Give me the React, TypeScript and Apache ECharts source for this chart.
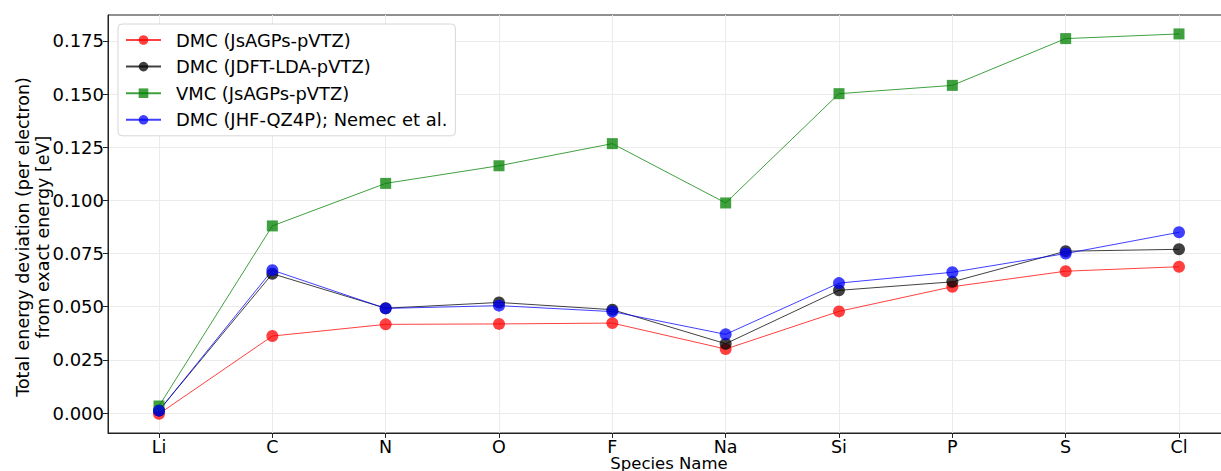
import React, { useEffect, useRef } from "react";
import * as echarts from "echarts";

const categories = ["Li", "C", "N", "O", "F", "Na", "Si", "P", "S", "Cl"];
const dmcJsAGPs = [-0.0004, 0.0362, 0.0417, 0.0419, 0.0423, 0.0301, 0.0478, 0.0594, 0.0667, 0.0688];
const dmcJDFT = [0.0012, 0.0655, 0.0493, 0.0520, 0.0486, 0.0326, 0.0577, 0.0617, 0.0761, 0.0770];
const vmcJsAGPs = [0.0033, 0.0880, 0.1080, 0.1163, 0.1267, 0.0988, 0.1502, 0.1541, 0.1761, 0.1783];
const dmcJHF = [0.0011, 0.0672, 0.0492, 0.0505, 0.0477, 0.0370, 0.0611, 0.0662, 0.0750, 0.0850];
const yTicks = [0, 0.025, 0.05, 0.075, 0.1, 0.125, 0.15, 0.175];

const FONT = "DejaVu Sans";

function mkSeries(name: string, vals: number[], color: string, symbol: string, size: number) {
  return {
    name,
    type: "line",
    data: vals.map((v, i) => [i, v]),
    symbol,
    symbolSize: size,
    lineStyle: { color, width: 1, opacity: 0.75 },
    itemStyle: { color, opacity: 0.75 },
    emphasis: { disabled: true },
  };
}

export default function App() {
  const ref = useRef<HTMLDivElement>(null);
  useEffect(() => {
    document.body.style.margin = "0";
    const chart = echarts.init(ref.current!, null, { renderer: "svg" });
    chart.setOption({
      animation: false,
      textStyle: { fontFamily: FONT },
      grid: {
        left: 108, top: 15, right: -9, bottom: 38,
        show: true, borderColor: "#222", borderWidth: 1,
        outerBoundsMode: "none", containLabel: false,
      },
      legend: {
        left: 118,
        top: 24,
        orient: "vertical",
        backgroundColor: "#fff",
        borderColor: "#d6d6d6",
        borderWidth: 1,
        borderRadius: 4,
        padding: [7, 8, 7, 7],
        itemWidth: 35,
        itemHeight: 12,
        itemGap: 8.6,
        textStyle: { fontFamily: FONT, fontSize: 17.9, color: "#000", lineHeight: 17.9, padding: [0, 0, 0, 10] },
      },
      graphic: [
        {
          type: "text",
          x: 33,
          y: 237,
          rotation: Math.PI / 2,
          style: {
            text: "Total energy deviation (per electron)\nfrom exact energy [eV]",
            fontFamily: FONT,
            fontSize: 17.5,
            lineHeight: 20,
            fill: "#000",
            align: "center",
            verticalAlign: "middle",
          },
        },
        {
          type: "text",
          x: 669,
          y: 463,
          style: {
            text: "Species Name",
            fontFamily: FONT,
            fontSize: 16.5,
            lineHeight: 15,
            fill: "#000",
            align: "center",
            verticalAlign: "middle",
          },
        },
      ],
      xAxis: {
        type: "value",
        min: -0.45,
        max: 9.45,
        axisLine: { show: true, onZero: false, lineStyle: { color: "#222", width: 1 } },
        axisTick: { show: true, length: 5, lineStyle: { color: "#222" }, customValues: categories.map((_, i) => i) },
        axisLabel: {
          fontFamily: FONT,
          fontSize: 17.5,
          lineHeight: 15,
          color: "#000",
          margin: 6,
          customValues: categories.map((_, i) => i),
          formatter: (v: number) => categories[Math.round(v)] ?? "",
        },
        splitLine: { show: true, lineStyle: { color: "#ebebeb", width: 1 } },
      },
      yAxis: {
        type: "value",
        min: -0.0094,
        max: 0.1872,
        axisLine: { show: true, onZero: false, lineStyle: { color: "#222", width: 1 } },
        axisTick: { show: true, length: 5, lineStyle: { color: "#222" }, customValues: yTicks },
        axisLabel: {
          fontFamily: FONT,
          fontSize: 18,
          color: "#000",
          margin: 4,
          customValues: yTicks,
          formatter: (v: number) => v.toFixed(3),
        },
        splitLine: { show: true, lineStyle: { color: "#ebebeb", width: 1 } },
      },
      series: [
        mkSeries("DMC (JsAGPs-pVTZ)", dmcJsAGPs, "#ff0000", "circle", 12),
        mkSeries("DMC (JDFT-LDA-pVTZ)", dmcJDFT, "#000000", "circle", 12),
        mkSeries("VMC (JsAGPs-pVTZ)", vmcJsAGPs, "#008000", "rect", 11),
        mkSeries("DMC (JHF-QZ4P); Nemec et al.", dmcJHF, "#0000ff", "circle", 12),
      ],
    });
    return () => chart.dispose();
  }, []);
  return <div ref={ref} style={{ width: 1221, height: 471 }} />;
}
